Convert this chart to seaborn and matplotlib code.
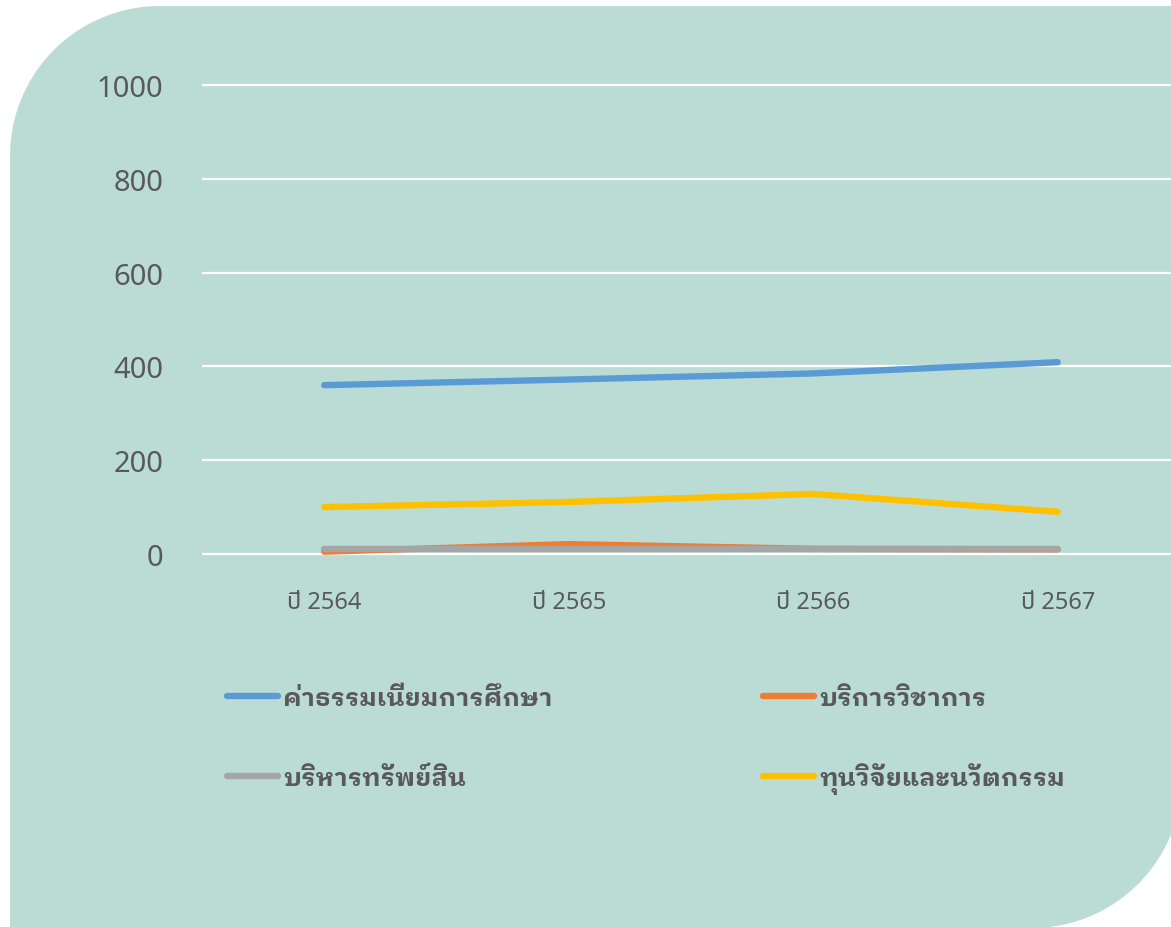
import numpy as np
import pandas as pd
import matplotlib
matplotlib.use("Agg")
import matplotlib.pyplot as plt
from matplotlib.lines import Line2D
from matplotlib.patches import Polygon
import seaborn as sns

years = ["ปี 2564", "ปี 2565", "ปี 2566", "ปี 2567"]
series_names = ["ค่าธรรมเนียมการศึกษา", "บริการวิชาการ", "บริหารทรัพย์สิน", "ทุนวิจัยและนวัตกรรม"]
fees = [360, 372, 385, 409]
academic_service = [5, 21, 11, 10]
asset_mgmt = [10, 10, 10, 10]
research = [100, 111, 128, 90]
colors = ["#5B9BD5", "#ED7D31", "#A5A5A5", "#FFC000"]

W, H = 1171, 928
TXT = "#595959"
BG = "#BBDCD5"

sns.set_theme(style="white")
plt.rcParams["font.family"] = ["Noto Sans Thai UI", "Noto Sans Thai", "DejaVu Sans"]

df = pd.DataFrame({
    "year": years * 4,
    "series": np.repeat(series_names, 4),
    "value": fees + academic_service + asset_mgmt + research,
})
df["pos"] = df["year"].map({y: i for i, y in enumerate(years)})

fig = plt.figure(figsize=(W / 100, H / 100), dpi=100)
fig.patch.set_facecolor("white")

# rounded background card: top-left and bottom-right corners rounded
def card(x0, y0, x1, y1, r):
    t1 = np.linspace(np.pi, 1.5 * np.pi, 40)
    t2 = np.linspace(0, 0.5 * np.pi, 40)
    pts = [(x0, y1)]
    pts += list(zip(x0 + r + r * np.cos(t1), y0 + r + r * np.sin(t1)))
    pts += [(x1, y0)]
    pts += list(zip(x1 - r + r * np.cos(t2), y1 - r + r * np.sin(t2)))
    return np.array([(x / W, 1 - y / H) for x, y in pts])

fig.patches.append(Polygon(card(10, 7, 1182, 929, 150), closed=True,
                           transform=fig.transFigure, facecolor=BG,
                           edgecolor="none", zorder=-5))

# axes geometry in pixels: 0 -> y=555, 1000 -> y=86
ppu = (555 - 86) / 1000
top_px, bot_px = 70, 570
left_px, right_px = 202, 1180
ax = fig.add_axes([left_px / W, 1 - bot_px / H, (right_px - left_px) / W, (bot_px - top_px) / H])
ax.set_facecolor("none")
ax.set_zorder(2)

sns.lineplot(data=df, x="pos", y="value", hue="series", hue_order=series_names,
             palette=colors, linewidth=4.6, legend=False, ax=ax,
             solid_capstyle="round")

ax.set_xlim(-0.5, 3.5)
ax.set_ylim(-(bot_px - 555) / ppu, (555 - top_px) / ppu)
ax.set_yticks(range(0, 1001, 200))
ax.set_xticks(range(4))
ax.set_xticklabels(years)
ax.grid(axis="y", color="white", linewidth=1.6)
ax.grid(axis="x", visible=False)
for s in ax.spines.values():
    s.set_visible(False)
ax.tick_params(axis="y", length=0, pad=28, labelsize=21, labelcolor=TXT)
ax.tick_params(axis="x", length=0, pad=15, labelsize=17, labelcolor=TXT)
ax.set_xlabel("")
ax.set_ylabel("")

# legend: two rows, each with two entries; second entry's line starts at x=760
handles = [Line2D([], [], color=c, linewidth=4.6, solid_capstyle="round") for c in colors]
leg_font = {"family": ["IBM Plex Sans Thai Looped", "Noto Sans Thai", "DejaVu Sans"],
            "weight": "bold", "size": 18.3}
fs_px = leg_font["size"] * 100 / 72
rows = [([0, 1], 699), ([2, 3], 779)]

def row_legend(idx, y, colspace):
    lg = fig.legend([handles[i] for i in idx], [series_names[i] for i in idx],
                    ncol=2, loc="center left",
                    bbox_to_anchor=(227 / W, 1 - y / H), bbox_transform=fig.transFigure,
                    frameon=False, prop=leg_font, labelcolor=TXT,
                    handlelength=2.0, handletextpad=0.2, borderpad=0, borderaxespad=0,
                    columnspacing=colspace)
    return lg

for idx, y in rows:
    lg = row_legend(idx, y, 6.0)
    fig.canvas.draw()
    r = fig.canvas.get_renderer()
    x_end = lg.get_texts()[0].get_window_extent(r).x1
    lg.remove()
    row_legend(idx, y, (763 - x_end) / fs_px)

fig.savefig("out.png", dpi=100)
